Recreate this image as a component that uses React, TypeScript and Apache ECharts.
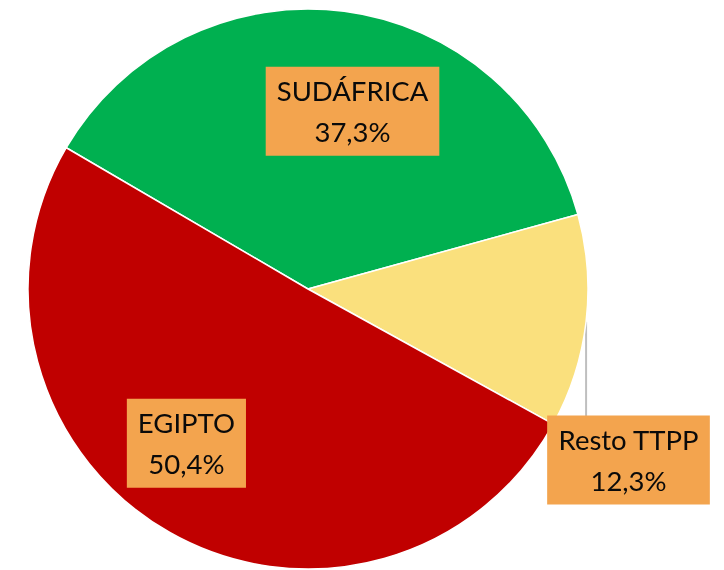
import React, { useEffect, useRef } from "react";
import * as echarts from "echarts";

const categories = ["SUDÁFRICA", "Resto TTPP", "EGIPTO"];
const values = [37.3, 12.3, 50.4];
const colors = ["#00B050", "#FAE07D", "#C00000"];

export default function App() {
  const ref = useRef<HTMLDivElement>(null);
  useEffect(() => {
    if (!ref.current) return;
    const chart = echarts.init(ref.current, null, { renderer: "svg" });
    const data = categories.map((name, i) => ({
      name,
      value: values[i],
      itemStyle: { color: colors[i] },
      label: i === 1 ? { position: "outside" } : { position: "inside" },
      labelLine: { show: i === 1 },
    }));
    chart.setOption({
      animation: false,
      series: [
        {
          type: "pie",
          center: [308, 289],
          radius: 280,
          startAngle: 149.7,
          clockwise: true,
          avoidLabelOverlap: false,
          itemStyle: { borderColor: "#ffffff", borderWidth: 1.5 },
          label: {
            show: true,
            formatter: (p: any) =>
              p.name + "\n" + p.value.toFixed(1).replace(".", ",") + "%",
            color: "#0a0a0a",
            fontFamily: "Lato",
            fontSize: 27.5,
            lineHeight: 41,
            backgroundColor: "#F3A44E",
            padding: [4, 11, 3, 11],
            align: "center",
          },
          labelLine: {
            show: true,
            lineStyle: { color: "#BFBFBF", width: 2 },
          },
          labelLayout: (params: any) => {
            if (params.dataIndex === 0) return { dx: 26, dy: -36 };
            if (params.dataIndex === 2) return { dx: -51, dy: 30 };
            const p0 = params.labelLinePoints ? params.labelLinePoints[0] : [586, 322];
            const top = 416;
            const h = 88;
            return {
              x: 628.5,
              y: top + h / 2,
              align: "center",
              verticalAlign: "middle",
              labelLinePoints: [
                [p0[0], p0[1]],
                [p0[0], top],
                [p0[0], top],
              ],
            };
          },
          data,
        },
      ],
    });
    return () => chart.dispose();
  }, []);
  return (
    <div
      ref={ref}
      style={{ position: "fixed", left: 0, top: 0, width: 724, height: 570 }}
    />
  );
}
